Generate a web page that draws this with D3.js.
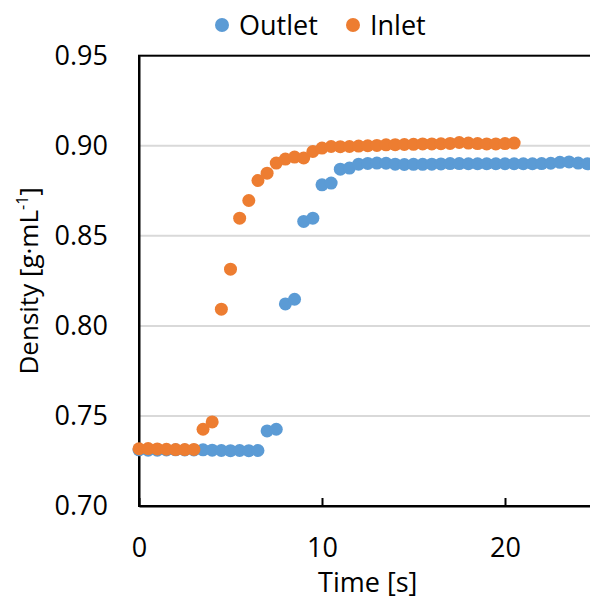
<!DOCTYPE html>
<html>
<head>
<meta charset="utf-8">
<script src="https://cdn.jsdelivr.net/npm/d3@7"></script>
<style>
  body { margin: 0; background: #fff; }
  text { font-family: "Open Sans", sans-serif; fill: #000; }
</style>
</head>
<body>
<div id="container"></div>
<script>
// data
const outletTime = [0, 0.5, 1, 1.5, 2, 2.5, 3, 3.5, 4, 4.5, 5, 5.5, 6, 6.5, 7, 7.5, 8, 8.5, 9, 9.5,
  10, 10.5, 11, 11.5, 12, 12.5, 13, 13.5, 14, 14.5, 15, 15.5, 16, 16.5, 17, 17.5, 18, 18.5, 19, 19.5,
  20, 20.5, 21, 21.5, 22, 22.5, 23, 23.5, 24, 24.5];
const outletDensity = [0.7312, 0.7310, 0.7310, 0.7311, 0.7312, 0.7311, 0.7311, 0.7312, 0.7310, 0.7308,
  0.7307, 0.7308, 0.7307, 0.7308, 0.7417, 0.7426, 0.8122, 0.8148, 0.8580, 0.8598,
  0.8783, 0.8793, 0.8870, 0.8876, 0.8898, 0.8902, 0.8904, 0.8903, 0.8898, 0.8896,
  0.8897, 0.8897, 0.8898, 0.8899, 0.8901, 0.8901, 0.8900, 0.8900, 0.8900, 0.8900,
  0.8900, 0.8900, 0.8900, 0.8900, 0.8901, 0.8903, 0.8908, 0.8910, 0.8904, 0.8900];

const inletTime = [0, 0.5, 1, 1.5, 2, 2.5, 3, 3.5, 4, 4.5, 5, 5.5, 6, 6.5, 7, 7.5, 8, 8.5, 9, 9.5,
  10, 10.5, 11, 11.5, 12, 12.5, 13, 13.5, 14, 14.5, 15, 15.5, 16, 16.5, 17, 17.5, 18, 18.5, 19, 19.5,
  20, 20.5];
const inletDensity = [0.7318, 0.7319, 0.7317, 0.7315, 0.7313, 0.7313, 0.7314, 0.7426, 0.7467, 0.8093,
  0.8315, 0.8598, 0.8696, 0.8807, 0.8848, 0.8904, 0.8926, 0.8937, 0.8932, 0.8968,
  0.8987, 0.8996, 0.8995, 0.8996, 0.8998, 0.9000, 0.9002, 0.9005, 0.9006, 0.9007,
  0.9008, 0.9010, 0.9010, 0.9011, 0.9013, 0.9018, 0.9015, 0.9012, 0.9010, 0.9010,
  0.9012, 0.9015];

const xTicks = [0, 10, 20];
const yTicks = [0.70, 0.75, 0.80, 0.85, 0.90, 0.95];
const seriesNames = ['Outlet', 'Inlet'];
const colors = ['#5B9BD5', '#ED7D31'];

const svgWidth = 590;
const svgHeight = 599;
const plotLeft = 139, plotRight = 596.5, plotTop = 55.7, plotBottom = 506;

const svg = d3.select('#container')
  .append('svg')
  .attr('width', svgWidth)
  .attr('height', svgHeight);

const xScale = d3.scaleLinear().domain([0, 25]).range([plotLeft, plotRight]);
const yScale = d3.scaleLinear().domain([0.70, 0.95]).range([plotBottom, plotTop]);

// gridlines
svg.append('g')
  .selectAll('line')
  .data(yTicks.slice(1, -1))
  .enter()
  .append('line')
  .attr('x1', plotLeft)
  .attr('x2', plotRight)
  .attr('y1', d => yScale(d))
  .attr('y2', d => yScale(d))
  .attr('stroke', '#d9d9d9')
  .attr('stroke-width', 2);

// frame
svg.append('rect')
  .attr('x', plotLeft)
  .attr('y', plotTop)
  .attr('width', plotRight - plotLeft)
  .attr('height', plotBottom - plotTop)
  .attr('fill', 'none')
  .attr('stroke', '#000')
  .attr('stroke-width', 2);

// x axis with inner ticks
const xAxis = d3.axisBottom(xScale)
  .tickValues(xTicks)
  .tickSizeInner(-8)
  .tickSizeOuter(0)
  .tickPadding(32);

const gx = svg.append('g')
  .attr('id', 'x-axis')
  .attr('transform', `translate(0, ${plotBottom})`)
  .call(xAxis);
gx.select('.domain').attr('stroke', '#000').attr('stroke-width', 2);
gx.selectAll('.tick line').attr('stroke', '#000').attr('stroke-width', 2);
gx.selectAll('.tick text')
  .attr('font-size', 27)
  .attr('font-family', '"Open Sans", sans-serif');

// y axis, labels only
const yAxis = d3.axisLeft(yScale)
  .tickValues(yTicks)
  .tickFormat(d3.format('.2f'))
  .tickSize(0)
  .tickPadding(31);

const gy = svg.append('g')
  .attr('id', 'y-axis')
  .attr('transform', `translate(${plotLeft}, 0)`)
  .call(yAxis);
gy.select('.domain').attr('stroke', '#000').attr('stroke-width', 2);
gy.selectAll('.tick text')
  .attr('font-size', 27)
  .attr('font-family', '"Open Sans", sans-serif');

// points
const series = [
  outletTime.map((t, i) => [t, outletDensity[i]]),
  inletTime.map((t, i) => [t, inletDensity[i]])
];

series.forEach((pts, k) => {
  svg.append('g')
    .selectAll('circle')
    .data(pts)
    .enter()
    .append('circle')
    .attr('cx', d => xScale(d[0]))
    .attr('cy', d => yScale(d[1]))
    .attr('r', 6.5)
    .attr('fill', colors[k]);
});

// axis titles
svg.append('text')
  .attr('x', (plotLeft + plotRight) / 2)
  .attr('y', 592)
  .attr('text-anchor', 'middle')
  .attr('font-size', 27)
  .text('Time [s]');

const yTitle = svg.append('text')
  .attr('transform', `translate(38, ${(plotTop + plotBottom) / 2}) rotate(-90)`)
  .attr('text-anchor', 'middle')
  .attr('font-size', 26);
yTitle.append('tspan').text('Density [g·mL');
yTitle.append('tspan').attr('font-size', 16).attr('dy', -10).text('-1');
yTitle.append('tspan').attr('dy', 10).text(']');

// legend
const legendX = [222, 353];
seriesNames.forEach((name, k) => {
  svg.append('circle')
    .attr('cx', legendX[k])
    .attr('cy', 25)
    .attr('r', 7)
    .attr('fill', colors[k]);
  svg.append('text')
    .attr('x', legendX[k] + 17)
    .attr('y', 35)
    .attr('font-size', 27)
    .text(name);
});
</script>
</body>
</html>
